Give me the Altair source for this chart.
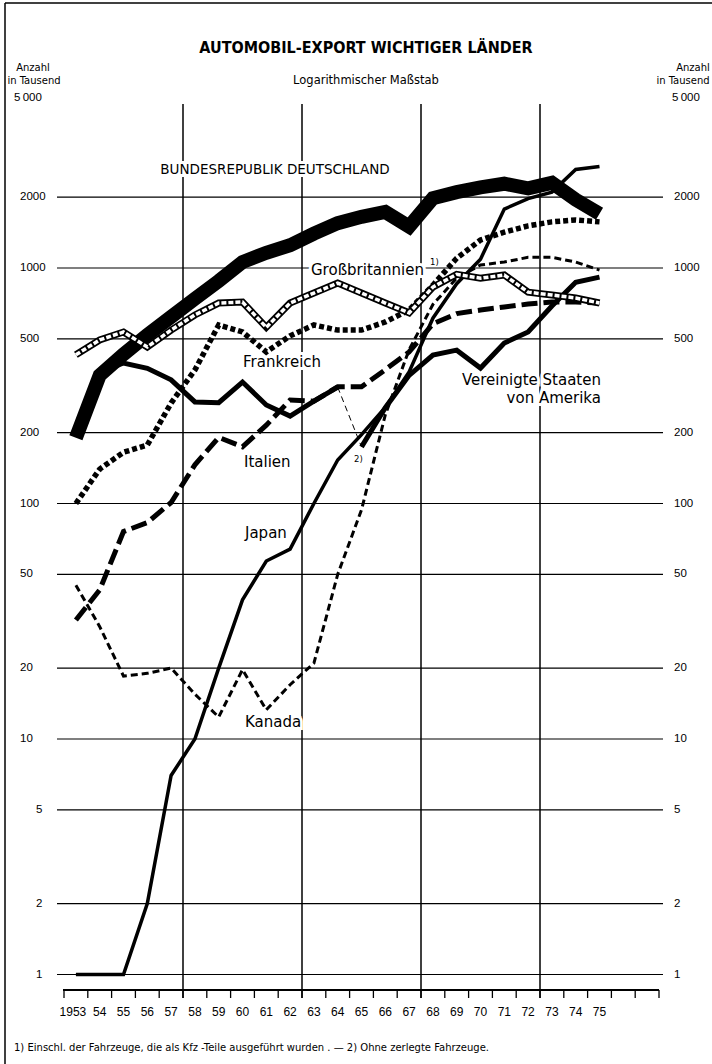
import altair as alt
import pandas as pd

# ---------------- data (thousands of vehicles) ----------------
years = list(range(1953, 1976))

germany = [190, 350, 430, 520, 620, 740, 880, 1060, 1160, 1250, 1400, 1550, 1650, 1730,
           1500, 1980, 2100, 2200, 2280, 2180, 2300, 1950, 1700]
uk = [428, 495, 535, 462, 545, 632, 710, 717, 560, 710, 783, 863, 783, 710, 645, 830,
      940, 905, 934, 790, 768, 746, 710]
france = [100, 140, 165, 177, 267, 369, 573, 535, 440, 515, 573, 545, 545, 590, 663,
          845, 1100, 1315, 1420, 1510, 1570, 1600, 1570]
italy = [32, 43, 76, 83, 101, 146, 191, 174, 215, 275, 272, 313, 313, 370, 440, 580,
         640, 663, 683, 703, 717, 717, 710]
canada = [45, 30, 18.5, 19, 20, 15.5, 12.4, 19.7, 13.3, 17, 21, 50, 94, 238, 450, 700,
          905, 1030, 1060, 1110, 1110, 1060, 980]
japan = [1, 1, 1, 2, 7, 10, 20, 39, 57, 64, 100, 153, 196, 256, 362, 612, 858, 1090,
         1780, 1970, 2100, 2620, 2700]
usa_years_a = list(range(1954, 1965))
usa_a = [360, 395, 375, 335, 270, 268, 328, 262, 235, 272, 312]
usa_conn_years = [1964, 1965]
usa_conn = [312, 174]
usa_years_b = list(range(1965, 1976))
usa_b = [174, 255, 350, 427, 448, 376, 480, 535, 690, 870, 915]

grid_values = [1, 2, 5, 10, 20, 50, 100, 200, 500, 1000, 2000]
grid_labels = ["1", "2", "5", "10", "20", "50", "100", "200", "500", "1000", "2000"]
major_bounds = [1957.5, 1962.5, 1967.5, 1972.5]
tick_bounds = [1952.5 + i for i in range(26)]
year_labels = ["1953"] + [str(y)[2:] for y in years[1:]]

title_text = "AUTOMOBIL-EXPORT WICHTIGER LÄNDER"
subtitle_text = "Logarithmischer Maßstab"
unit_lines = ["Anzahl", "in Tausend"]
top_value_label = "5\u2009000"
footnote_text = ("1) Einschl. der Fahrzeuge, die als Kfz -Teile ausgeführt wurden . — "
                 "2) Ohne zerlegte Fahrzeuge.")
country_labels = ["BUNDESREPUBLIK DEUTSCHLAND", "Großbritannien", "Frankreich",
                  "Vereinigte Staaten", "von Amerika", "Italien", "Japan", "Kanada"]

FONT = "DejaVu Sans"
NUM_FONT = "Liberation Sans"
TITLE_FONT = "DejaVu Sans Condensed, Liberation Sans Narrow, DejaVu Sans"

X = alt.Scale(domain=[1952.5, 1977.5], range=[64, 659])
Y = alt.Scale(type="log", domain=[1, 5000], range=[974.5, 103.4])


def sdf(yrs, vals):
    return pd.DataFrame({"year": yrs, "value": vals})


def line(df, width, color="black", dash=None):
    kw = dict(color=color, strokeWidth=width, strokeCap="butt", strokeJoin="miter")
    if dash:
        kw["strokeDash"] = dash
    return alt.Chart(df).mark_line(**kw).encode(
        x=alt.X("year:Q", scale=X, axis=None),
        y=alt.Y("value:Q", scale=Y, axis=None),
        order="year:Q",
    )


def text(t, x, y, size=13, align="left", weight="normal", font=FONT, halo=False):
    base = alt.Chart(pd.DataFrame({"t": [t]})).encode(
        x=alt.value(x), y=alt.value(y), text="t:N")
    if halo:
        return base.mark_text(align=align, baseline="middle", fontSize=size, font=font,
                              fontWeight=weight, color="white", stroke="white",
                              strokeWidth=6)
    return base.mark_text(align=align, baseline="middle", fontSize=size, font=font,
                          fontWeight=weight, color="black")


# ---------------- frame, grid, axis ----------------
frame = [
    alt.Chart(pd.DataFrame({"a": [0]})).mark_rule(color="black", strokeWidth=1.5).encode(
        x=alt.value(5), y=alt.value(3), y2=alt.value(1064)),
    alt.Chart(pd.DataFrame({"a": [0]})).mark_rule(color="black", strokeWidth=1.5).encode(
        x=alt.value(5), x2=alt.value(712), y=alt.value(3)),
]

grid_df = pd.DataFrame({"v": grid_values, "lab": grid_labels})
hgrid = alt.Chart(grid_df).mark_rule(color="black", strokeWidth=1.1).encode(
    y=alt.Y("v:Q", scale=Y, axis=None), x=alt.value(57), x2=alt.value(663))

left_big = alt.Chart(grid_df).transform_filter(alt.datum.v >= 10).mark_text(
    align="left", baseline="middle", fontSize=11.5, font=NUM_FONT, color="black").encode(
    y=alt.Y("v:Q", scale=Y, axis=None), x=alt.value(20), text="lab:N")
left_small = alt.Chart(grid_df).transform_filter(alt.datum.v < 10).mark_text(
    align="left", baseline="middle", fontSize=11.5, font=NUM_FONT, color="black").encode(
    y=alt.Y("v:Q", scale=Y, axis=None), x=alt.value(36), text="lab:N")
right_lab = alt.Chart(grid_df).mark_text(
    align="left", baseline="middle", fontSize=11.5, font=NUM_FONT, color="black").encode(
    y=alt.Y("v:Q", scale=Y, axis=None), x=alt.value(674), text="lab:N")

vgrid = alt.Chart(pd.DataFrame({"b": major_bounds})).mark_rule(
    color="black", strokeWidth=1.5).encode(
    x=alt.X("b:Q", scale=X, axis=None), y=alt.value(104), y2=alt.value(998))

axis_line = alt.Chart(pd.DataFrame({"a": [0]})).mark_rule(
    color="black", strokeWidth=2).encode(x=alt.value(63), x2=alt.value(659), y=alt.value(990))
ticks = alt.Chart(pd.DataFrame({"b": tick_bounds})).mark_rule(
    color="black", strokeWidth=1.3).encode(
    x=alt.X("b:Q", scale=X, axis=None), y=alt.value(990), y2=alt.value(998))
xlab_df = pd.DataFrame({"year": years, "lab": year_labels})
xlabels_first = alt.Chart(xlab_df).transform_filter(alt.datum.year == 1953).mark_text(
    baseline="middle", align="center", fontSize=12, font=NUM_FONT, color="black",
    dx=-3).encode(
    x=alt.X("year:Q", scale=X, axis=None), y=alt.value(1012), text="lab:N")
xlabels_rest = alt.Chart(xlab_df).transform_filter(alt.datum.year > 1953).mark_text(
    baseline="middle", align="center", fontSize=12, font=NUM_FONT, color="black").encode(
    x=alt.X("year:Q", scale=X, axis=None), y=alt.value(1012), text="lab:N")

# ---------------- header / footer texts ----------------
header = [
    text(title_text, 366, 48, size=16, align="center", weight="bold", font=TITLE_FONT),
    text(unit_lines[0], 33, 68, size=10, align="center"),
    text(unit_lines[1], 34, 81, size=10, align="center"),
    text(unit_lines[0], 693, 68, size=10, align="center"),
    text(unit_lines[1], 683, 81, size=10, align="center"),
    text(subtitle_text, 366, 81, size=11.5, align="center"),
    text(top_value_label, 14, 98, size=11.5, font=NUM_FONT),
    text(top_value_label, 672, 98, size=11.5, font=NUM_FONT),
    text(footnote_text, 14, 1048, size=10),
]

# ---------------- country labels ----------------
label_specs = [
    (country_labels[0], 275, 170, 13.5, "center"),
    (country_labels[1], 311, 270, 15, "left"),
    (country_labels[2], 243, 362, 15, "left"),
    (country_labels[3], 601, 380, 15, "right"),
    (country_labels[4], 601, 398, 15, "right"),
    (country_labels[5], 244, 462, 15, "left"),
    (country_labels[6], 245, 533, 15, "left"),
    (country_labels[7], 245, 722, 15, "left"),
]
halos = [text(t, x, y, size=s, align=a, halo=True) for t, x, y, s, a in label_specs]
labels = [text(t, x, y, size=s, align=a) for t, x, y, s, a in label_specs]
labels += [text("1)", 430, 262, size=8.5), text("2)", 354, 459, size=8.5)]

# ---------------- series ----------------
series = [
    line(sdf(years, germany), 14),
    line(sdf(years, canada), 3, dash=[7, 4]),
    line(sdf(years, italy), 5, dash=[16, 6]),
    line(sdf(years, france), 5.5, dash=[5, 3]),
    line(sdf(usa_years_a, usa_a), 5),
    line(sdf(usa_conn_years, usa_conn), 1, dash=[6, 4]),
    line(sdf(usa_years_b, usa_b), 5),
    line(sdf(years, japan), 3.5),
    line(sdf(years, uk), 7),
    line(sdf(years, uk), 3.5, color="white", dash=[5, 2]),
]

chart = alt.layer(
    *frame, hgrid, vgrid, axis_line, ticks, xlabels_first, xlabels_rest,
    left_big, left_small, right_lab,
    *header, *halos, *series, *labels
).properties(
    width=712, height=1064, padding=0,
    autosize=alt.AutoSizeParams(type="none"),
    background="white",
).configure_view(stroke=None)

chart.save("out.html", embed_options={"renderer": "svg", "actions": False})
